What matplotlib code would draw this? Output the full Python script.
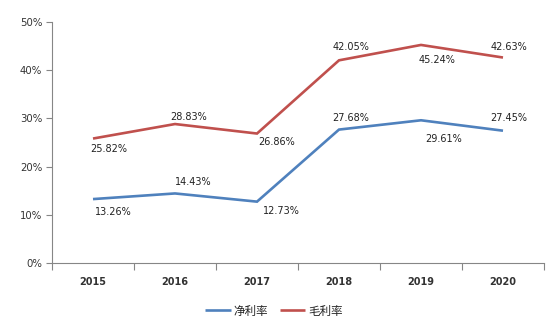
import matplotlib
matplotlib.use("Agg")
import matplotlib.pyplot as plt
from matplotlib.ticker import FixedLocator, FuncFormatter

plt.rcParams['font.family'] = ['DejaVu Sans', 'Noto Sans CJK SC']

years = ['2015', '2016', '2017', '2018', '2019', '2020']
net_margin = [13.26, 14.43, 12.73, 27.68, 29.61, 27.45]
gross_margin = [25.82, 28.83, 26.86, 42.05, 45.24, 42.63]
series_names = ['净利率', '毛利率']

# label offsets in pixels (dx, dy)
net_offsets = [(20, -13), (18, 11), (24, -9.5), (12, 11.6), (23, -19), (6, 12.7)]
gross_offsets = [(16, -10.5), (14, 7), (20, -8.5), (12, 13), (16, -15), (6, 10.5)]

blue = '#4F81BD'
red = '#C0504D'
gray = '#868686'
txt = '#333333'

fig = plt.figure(figsize=(5.57, 3.31), dpi=100)
ax = fig.add_axes([52/557, 68/331, 492/557, 241/331])

x = list(range(len(years)))
l1, = ax.plot(x, net_margin, color=blue, lw=1.9, solid_joinstyle='miter',
              solid_capstyle='butt', label=series_names[0])
l2, = ax.plot(x, gross_margin, color=red, lw=1.9, solid_joinstyle='miter',
              solid_capstyle='butt', label=series_names[1])

for xi, v, off in zip(x, net_margin, net_offsets):
    ax.annotate(f'{v:.2f}%', (xi, v), xytext=off, textcoords='offset pixels',
                ha='center', va='center', fontsize=7, color='#222222')
for xi, v, off in zip(x, gross_margin, gross_offsets):
    ax.annotate(f'{v:.2f}%', (xi, v), xytext=off, textcoords='offset pixels',
                ha='center', va='center', fontsize=7, color='#222222')

ax.set_xlim(-0.5, len(years) - 0.5)
ax.set_ylim(0, 50)
ax.set_yticks([0, 10, 20, 30, 40, 50])
ax.yaxis.set_major_formatter(FuncFormatter(lambda v, p: f'{int(v)}%'))

ax.set_xticks(x)
ax.set_xticklabels(years, fontweight='semibold')
ax.xaxis.set_minor_locator(FixedLocator([i - 0.5 for i in range(len(years) + 1)]))
ax.tick_params(axis='x', which='major', length=0, pad=10, labelsize=7, labelcolor=txt)
ax.tick_params(axis='x', which='minor', length=5, color=gray, direction='out', width=0.8)
ax.tick_params(axis='y', length=4, color=gray, width=0.8, labelsize=7.3, labelcolor=txt, pad=3)

for s in ['top', 'right']:
    ax.spines[s].set_visible(False)
for s in ['left', 'bottom']:
    ax.spines[s].set_color(gray)
    ax.spines[s].set_linewidth(0.8)

leg = fig.legend(handles=[l1, l2], loc='center', bbox_to_anchor=(274/557, 1 - 311/331),
                 ncol=2, frameon=False, handlelength=2.2, handletextpad=0.25,
                 columnspacing=1.0, prop={'family': ['Noto Sans CJK SC'], 'size': 8.3})
for t in leg.get_texts():
    t.set_color('#222222')

fig.savefig('out.png', dpi=100)
